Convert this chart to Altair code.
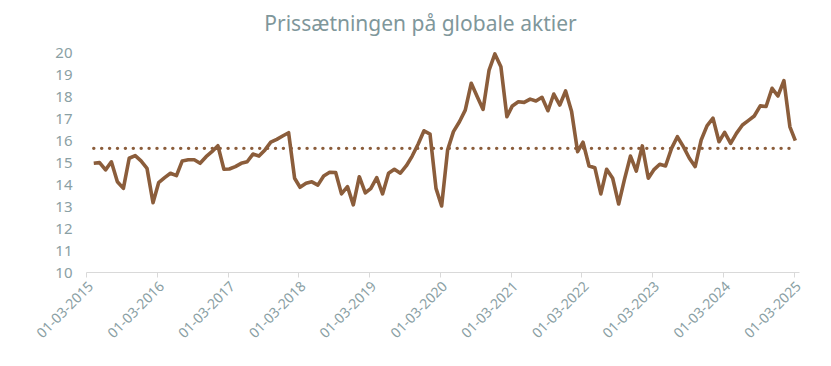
import altair as alt
import pandas as pd

values = [
    14.94, 14.97, 14.64, 15.01, 14.10, 13.80, 15.17, 15.29, 15.05, 14.71,
    13.15, 14.06, 14.29, 14.49, 14.38, 15.05, 15.10, 15.10, 14.94, 15.24,
    15.47, 15.74, 14.67, 14.68, 14.79, 14.94, 15.01, 15.36, 15.27, 15.55,
    15.90, 16.03, 16.18, 16.33, 14.26, 13.85, 14.03, 14.10, 13.95, 14.36,
    14.53, 14.52, 13.55, 13.88, 13.05, 14.33, 13.60, 13.79, 14.29, 13.55,
    14.49, 14.67, 14.49, 14.83, 15.27, 15.82, 16.42, 16.27, 13.80, 13.00,
    15.55, 16.38, 16.83, 17.36, 18.58, 17.97, 17.39, 19.18, 19.91, 19.33,
    17.06, 17.55, 17.74, 17.71, 17.86, 17.77, 17.94, 17.33, 18.09, 17.59,
    18.23, 17.29, 15.47, 15.90, 14.82, 14.74, 13.55, 14.67, 14.26, 13.09,
    14.21, 15.27, 14.59, 15.73, 14.26, 14.64, 14.90, 14.82, 15.62, 16.15,
    15.70, 15.17, 14.79, 16.00, 16.64, 16.99, 15.92, 16.35, 15.85, 16.30,
    16.68, 16.88, 17.09, 17.55, 17.52, 18.35, 18.00, 18.70, 16.60, 15.97,
]
dates = [d.strftime("%Y-%m-%d") for d in pd.date_range("2015-04-01", periods=len(values), freq="MS") + pd.Timedelta(days=9)]
average_value = 15.62
tick_years = list(range(2015, 2026))
y_ticks = list(range(10, 21))

df = pd.DataFrame({"date": dates, "value": values})
avg_df = pd.DataFrame({"date": [dates[0], dates[-1]], "value": [average_value, average_value]})

TEXT = "#8aa0a4"
BROWN = "#8b5d3b"
FONT = "Noto Sans"

x_scale = alt.Scale(
    type="utc",
    domain=[alt.DateTime(year=2015, month=3, date=1, utc=True),
            alt.DateTime(year=2025, month=3, date=29, utc=True)],
)
y_scale = alt.Scale(domain=[10, 20], nice=False, zero=False)
x_axis = alt.Axis(
    values=[alt.DateTime(year=y, month=3, date=1, utc=True) for y in tick_years],
    labelExpr="utcFormat(datum.value, '%d-%m-%Y')",
    labelAngle=-45, labelAlign="right", labelBaseline="top",
    labelFontSize=14, labelColor=TEXT, labelFont=FONT, labelPadding=2,
    labelOverlap=False, labelFlush=False,
    domainColor="#d9d9d9", tickColor="#d9d9d9", tickSize=5, grid=False, title=None,
)
y_axis = alt.Axis(
    values=y_ticks, tickCount=11, labelFontSize=15, labelColor=TEXT, labelFont=FONT,
    labelOverlap=False, labelFlush=False,
    domain=False, ticks=False, grid=False, title=None, labelPadding=14,
)

enc_x = alt.X("date:T", scale=x_scale, axis=x_axis)
enc_y = alt.Y("value:Q", scale=y_scale, axis=y_axis)

line = alt.Chart(df).mark_line(color=BROWN, strokeWidth=3.6, strokeJoin="round").encode(x=enc_x, y=enc_y)
avg = alt.Chart(avg_df).mark_line(color=BROWN, strokeWidth=3.4, strokeDash=[0.1, 7.8], strokeCap="round").encode(x=enc_x, y=enc_y)

chart = alt.layer(avg, line).properties(
    width=713, height=220,
    autosize=alt.AutoSizeParams(type="none"),
    padding={"left": 78, "top": 44, "right": 24, "bottom": 86},
    title=alt.TitleParams("Prissætningen på globale aktier", fontSize=21, font=FONT,
                          fontWeight="normal", color="#7f979b", anchor="middle", offset=10, dx=-22),
).configure_view(stroke=None)

chart.save("out.html", embed_options={"renderer": "svg", "actions": False})
